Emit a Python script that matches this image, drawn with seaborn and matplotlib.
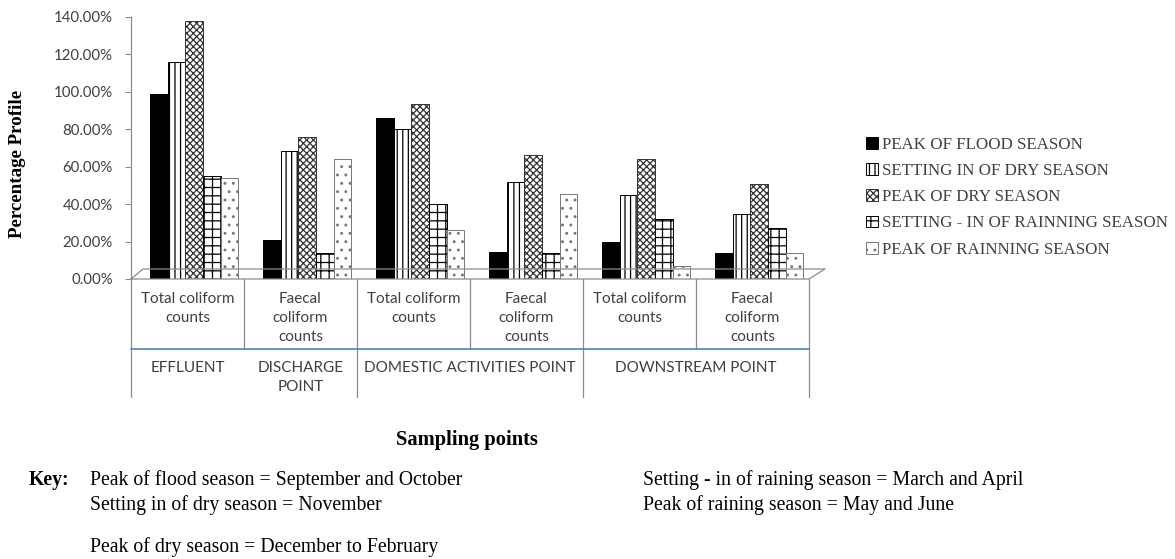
import numpy as np
import pandas as pd
import matplotlib
matplotlib.use("Agg")
import matplotlib.pyplot as plt
import matplotlib.transforms as mtransforms
from matplotlib.patches import Patch
from matplotlib.lines import Line2D
import seaborn as sns

# ---------------- data ----------------
measures = ["Total coliform\ncounts", "Faecal\ncoliform\ncounts",
            "Total coliform\ncounts", "Faecal\ncoliform\ncounts",
            "Total coliform\ncounts", "Faecal\ncoliform\ncounts"]
sample_ids = ["EFF-TC", "DIS-FC", "DOM-TC", "DOM-FC", "DOW-TC", "DOW-FC"]
sites = ["EFFLUENT", "DISCHARGE\nPOINT", "DOMESTIC ACTIVITIES POINT", "DOWNSTREAM POINT"]
site_spans = [(0, 0), (1, 1), (2, 3), (4, 5)]
seasons = ["PEAK OF FLOOD SEASON", "SETTING IN OF DRY SEASON", "PEAK OF DRY SEASON",
           "SETTING - IN OF RAINNING SEASON", "PEAK OF RAINNING SEASON"]
peak_flood = [99.0, 21.0, 86.0, 14.5, 20.0, 14.0]
setting_dry = [116.0, 68.5, 80.0, 52.0, 45.0, 35.0]
peak_dry = [138.0, 76.0, 93.5, 66.0, 64.0, 51.0]
setting_rain = [55.0, 14.0, 40.0, 14.0, 32.0, 27.0]
peak_rain = [54.0, 64.0, 26.0, 45.5, 7.0, 14.0]
yticks = [0, 20, 40, 60, 80, 100, 120, 140]
key_left = ["Peak of flood season = September and October",
            "Setting in of dry season = November",
            "Peak of dry season = December to February"]
key_right = ["Setting - in of raining season = March and April",
             "Peak of raining season = May and June"]

series = [peak_flood, setting_dry, peak_dry, setting_rain, peak_rain]
rows = []
for s, vals in zip(seasons, series):
    for sid, v in zip(sample_ids, vals):
        rows.append({"sample": sid, "season": s, "value": v})
df = pd.DataFrame(rows)

# ---------------- styling ----------------
sns.set_theme(style="white")
plt.rcParams["hatch.linewidth"] = 0.9
SERIF = ["Liberation Serif", "DejaVu Serif"]
SANS = ["Lato", "DejaVu Sans"]
GRAY = "#404040"
LINE = "#8c8c8c"

W, H = 1175, 559
fig = plt.figure(figsize=(W / 100, H / 100), dpi=100)
fx = lambda px: px / W
fy = lambda py: 1 - py / H

ax = fig.add_axes([fx(131), fy(279), fx(809) - fx(131), fy(17) - fy(279)])

styles = [
    dict(facecolor="black", edgecolor="black", hatch=None),
    dict(facecolor="white", edgecolor="black", hatch="|||"),
    dict(facecolor="white", edgecolor="#333333", hatch="xxxxx"),
    dict(facecolor="white", edgecolor="black", hatch="++"),
    dict(facecolor="white", edgecolor="#777777", hatch=".."),
]

sns.barplot(data=df, x="sample", y="value", hue="season", order=sample_ids,
            hue_order=seasons, width=0.78, dodge=True, ax=ax, legend=False,
            errorbar=None, gap=0)

DEPTH_SHIFT = 0.06  # mimic the 3-D perspective offset of the original
for cont, st in zip(ax.containers, styles):
    for p in cont.patches:
        p.set_x(p.get_x() + DEPTH_SHIFT)
        p.set_facecolor(st["facecolor"])
        p.set_edgecolor(st["edgecolor"])
        p.set_linewidth(0.7)
        if st["hatch"]:
            p.set_hatch(st["hatch"])

ax.set_xlim(-0.5, 5.5)
ax.set_ylim(0, 140)
ax.set_yticks(yticks)
ax.set_yticklabels([f"{v:.2f}%" for v in yticks], fontfamily=SANS, fontsize=10.8, color=GRAY)
ax.tick_params(axis="y", direction="out", length=4, width=0.8, color=LINE, pad=9, left=True)
ax.set_xticks([])
ax.set_xlabel("")
ax.set_ylabel("")
for side in ["top", "right", "bottom"]:
    ax.spines[side].set_visible(False)
ax.spines["left"].set_color(LINE)
ax.spines["left"].set_linewidth(0.9)
ax.patch.set_alpha(0)

# 3D-like floor
floor = [(131, 279), (809, 279), (825, 269), (143, 269), (131, 279)]
fig.add_artist(Line2D([fx(p[0]) for p in floor], [fy(p[1]) for p in floor],
                      transform=fig.transFigure, color=LINE, lw=0.9))

# category table under the axis
tr = mtransforms.blended_transform_factory(ax.transData, fig.transFigure)
for xb in np.arange(-0.5, 6.0, 1.0):
    fig.add_artist(Line2D([xb, xb], [fy(279), fy(349)], transform=tr, color=LINE, lw=0.9))
for xb in [-0.5, 1.5, 3.5, 5.5]:
    fig.add_artist(Line2D([xb, xb], [fy(349), fy(397)], transform=tr, color=LINE, lw=0.9))
fig.add_artist(Line2D([-0.5, 5.5], [fy(349), fy(349)], transform=tr, color="#4F81BD", lw=1.2))

for i, m in enumerate(measures):
    for j, line in enumerate(m.split("\n")):
        fig.text(i, fy(299 + 19 * j), line, transform=tr, ha="center", va="center",
                 fontfamily=SANS, fontsize=11, color=GRAY)
for name, (a, b) in zip(sites, site_spans):
    for j, line in enumerate(name.split("\n")):
        fig.text((a + b) / 2, fy(368 + 19 * j), line, transform=tr, ha="center", va="center",
                 fontfamily=SANS, fontsize=11, color=GRAY)

# legend
handles = [Patch(facecolor=st["facecolor"], edgecolor=st["edgecolor"], hatch=st["hatch"], lw=0.7)
           for st in styles]
leg = fig.legend(handles, seasons, loc="upper left", bbox_to_anchor=(fx(866), fy(137)),
                 frameon=False, handlelength=0.7, handleheight=0.7, handletextpad=0.25,
                 labelspacing=0.6, borderpad=0, borderaxespad=0,
                 prop={"family": SERIF, "size": 12.2})
for t in leg.get_texts():
    t.set_color(GRAY)

# axis titles
fig.text(fx(18), fy(164), "Percentage Profile", rotation=90, ha="center", va="center",
         fontfamily=SERIF, fontweight="bold", fontsize=13.7, color="black")
fig.text(fx(467), fy(440), "Sampling points", ha="center", va="center",
         fontfamily=SERIF, fontweight="bold", fontsize=14.8, color="black")

# key
fig.text(fx(29), fy(480), "Key:", ha="left", va="center", fontfamily=SERIF,
         fontweight="bold", fontsize=14.2, color="black")
for y, t in zip([480, 505, 547], key_left):
    fig.text(fx(90), fy(y), t, ha="left", va="center", fontfamily=SERIF, fontsize=14.2, color="black")
for y, t in zip([480, 505], key_right):
    fig.text(fx(643), fy(y), t, ha="left", va="center", fontfamily=SERIF, fontsize=14.2, color="black")

fig.savefig("out.png", dpi=100, facecolor="white")
